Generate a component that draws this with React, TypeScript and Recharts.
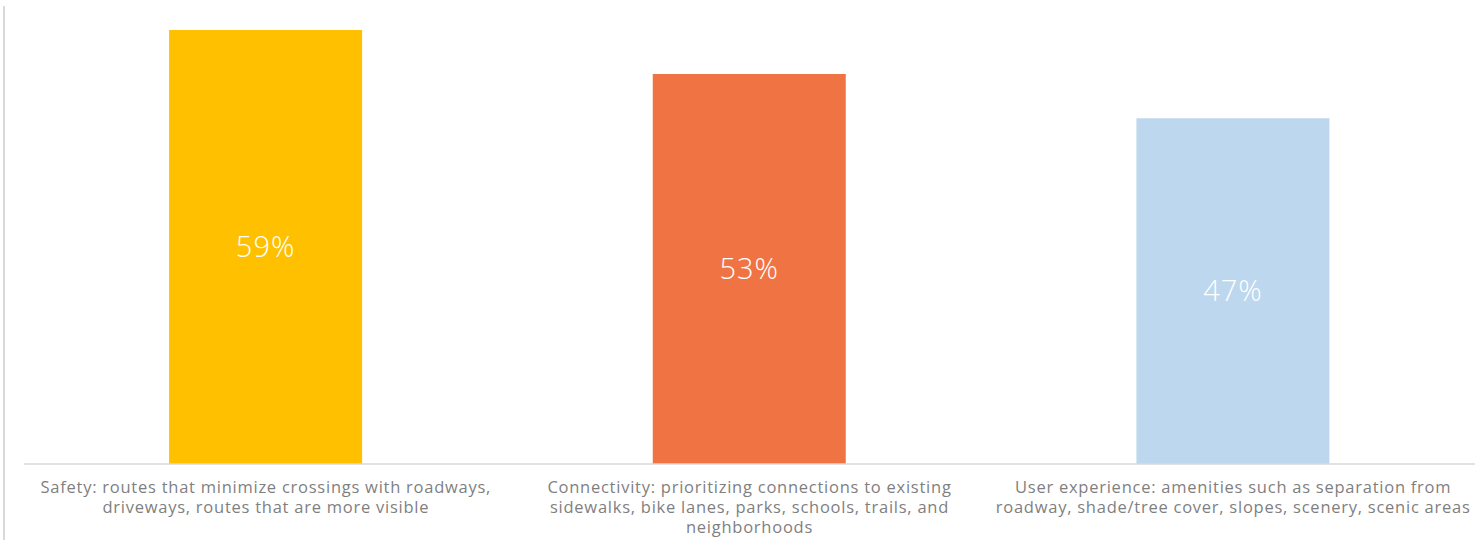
import React from 'react';
import { BarChart, Bar, XAxis, YAxis, Cell, LabelList } from 'recharts';

const categories: string[][] = [
  ['Safety: routes that minimize crossings with roadways,', 'driveways, routes that are more visible'],
  ['Connectivity: prioritizing connections to existing', 'sidewalks, bike lanes, parks, schools, trails, and', 'neighborhoods'],
  ['User experience: amenities such as separation from', 'roadway, shade/tree cover, slopes, scenery, scenic areas'],
];
const values: number[] = [59, 53, 47];
const colors: string[] = ['#FFC000', '#F07343', '#BDD7EE'];

const data = categories.map((lines, i) => ({ name: lines.join(' '), idx: i, value: values[i] }));

const FONT = '"Open Sans", sans-serif';

const Tick = (props: any) => {
  const { x, y, payload } = props;
  const lines = categories[payload.index] || [];
  return (
    <g>
      {lines.map((l, i) => (
        <text key={i} x={x} y={y + 21 + i * 20} textAnchor="middle" fill="#7F7F7F" fontSize={16.5} letterSpacing={0.75} fontFamily={FONT}>
          {l}
        </text>
      ))}
    </g>
  );
};

export default function App() {
  return (
    <div style={{ position: 'absolute', left: 0, top: 0, width: 1484, height: 540, background: '#fff' }}>
      <div style={{ position: 'absolute', left: 3, top: 6, width: 1.5, height: 534, background: '#D9D9D9' }} />
      <BarChart width={1484} height={540} data={data} margin={{ top: 22.6, right: 9, bottom: 0, left: 24 }} barCategoryGap="30%">
        <XAxis dataKey="name" height={76} axisLine={{ stroke: '#D9D9D9', strokeWidth: 1.5 }} tickLine={false} tick={<Tick />} interval={0} />
        <YAxis hide domain={[0, 60]} />
        <Bar dataKey="value" isAnimationActive={false}>
          {data.map((d, i) => (
            <Cell key={i} fill={colors[i]} />
          ))}
          <LabelList dataKey="value" position="center" formatter={(v: any) => `${v}%`} fill="#FFFFFF" fontSize={29} fontWeight={300} letterSpacing={1} fontFamily={FONT} />
        </Bar>
      </BarChart>
    </div>
  );
}
